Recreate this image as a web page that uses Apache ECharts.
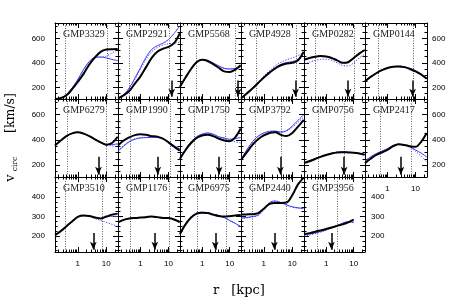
<!DOCTYPE html>
<html><head><meta charset="utf-8">
<script src="https://cdn.jsdelivr.net/npm/echarts@6/dist/echarts.min.js"></script>
<style>html,body{margin:0;padding:0;background:#fff}#c{width:458px;height:303px}</style>
</head><body><div id="c"></div>
<script>
// ---------------- data ----------------
const names = ['GMP3329','GMP2921','GMP5568','GMP4928','GMP0282','GMP0144',
  'GMP6279','GMP1990','GMP1750','GMP3792','GMP0756','GMP2417',
  'GMP3510','GMP1176','GMP6975','GMP2440','GMP3956'];
const radii = [0.158,0.251,0.398,0.631,1,1.585,2.512,3.981,6.31,10,15.85,25.1];
const vBlack = [
  [105,112,135,185,245,310,385,445,490,508,511,512],
  [110,135,170,230,290,365,440,490,515,530,560,640],
  [205,280,350,405,425,415,390,360,330,325,345,380],
  [110,150,190,235,280,320,355,380,395,400,420,490],
  [425,440,450,455,452,440,420,400,405,440,475,505],
  [250,285,315,340,358,368,370,365,350,330,305,270],
  [355,395,430,452,460,450,430,405,380,362,375,425],
  [355,395,420,438,445,440,430,425,410,380,345,315],
  [250,320,375,415,435,440,430,410,395,390,420,490],
  [240,300,360,405,435,455,460,440,430,455,505,560],
  [215,230,248,265,280,292,300,302,300,298,292,282],
  [215,250,280,300,320,350,365,360,350,345,385,455],
  [205,225,250,275,298,305,303,295,290,300,310,315],
  [270,283,290,293,295,297,300,297,293,292,285,272],
  [210,260,295,315,320,318,310,303,300,302,305,308],
  [310,311,312,318,340,365,370,370,372,410,465,500],
  [210,215,222,229,236,244,252,260,270,284,null,null]
];
const vBlue = [
  [105,115,140,195,265,345,410,445,448,440,428,418],
  [110,140,195,275,360,445,510,540,560,590,640,700],
  [205,280,352,408,428,420,398,375,355,350,355,370],
  [110,150,192,238,283,325,360,388,402,410,430,485],
  [425,440,450,455,452,440,420,400,405,440,475,505],
  [245,282,313,340,358,368,372,368,355,335,310,275],
  [355,395,430,452,460,450,430,405,382,362,362,370],
  [310,350,385,405,415,418,420,422,410,385,355,330],
  [250,325,385,425,445,455,445,425,415,405,410,420],
  [245,320,385,430,455,468,470,462,475,510,555,600],
  [220,235,252,268,282,294,302,304,302,299,293,283],
  [230,265,290,310,330,355,365,360,345,320,295,265],
  [205,225,250,275,298,305,303,295,290,298,302,300],
  [270,283,290,293,295,297,300,297,293,292,285,272],
  [210,262,297,317,322,318,312,305,295,280,265,248],
  [292,295,300,308,340,372,380,372,360,350,345,342],
  [205,210,216,223,232,243,255,266,274,270,null,null]
];
const vBlueDot = [
  [105,115,140,195,265,345,410,440,445,455,480,510],
  [110,140,190,265,350,430,490,525,545,555,560,570],
  [205,280,352,408,428,420,398,375,355,350,355,370],
  [110,150,195,245,292,335,375,405,425,440,460,480],
  [385,405,420,428,430,420,400,378,375,400,440,470],
  [245,282,313,340,358,368,372,368,355,335,310,275],
  [355,395,430,452,460,450,430,405,380,360,352,345],
  [315,355,388,408,418,420,422,420,408,383,352,325],
  [250,325,385,425,445,455,445,425,412,395,385,375],
  [245,318,382,428,452,466,468,460,470,500,540,580],
  [220,235,252,268,282,294,302,304,302,299,293,283],
  [230,265,290,310,330,355,365,358,340,310,270,225],
  [205,225,250,275,298,305,303,290,280,270,260,250],
  [270,283,290,293,295,297,300,297,293,292,285,272],
  [210,262,297,317,322,318,312,305,295,280,265,248],
  [290,293,298,305,335,368,378,370,358,348,343,340],
  [200,205,212,220,230,242,254,265,272,268,null,null]
];
const arrowR = [null,13,20,13,6.2,7.9, 5.3,4.15,4.15,3.8,4.5,3.0, 3.5,3.25,3.0,2.35,1.56];
const dotR1 = [0.36,0.39,0.59,0.54,0.39,0.46, 0.43,0.43,0.5,0.5,0.5,0.54, 0.36,0.43,0.69,0.39,0.46];
const dotR2 = [11,11,15.3,14,10.2,8.6, 10.2,12,6.8,4.15,4.5,6.8, 7.3,11,7.3,6.2,2.55];
const xTickLabels = [1,10];
const xMinorTicks = [0.2,0.3,0.4,0.5,0.6,0.7,0.8,0.9,2,3,4,5,6,7,8,9,20];
const yTickLabelsUpper = [200,400,600];
const yTickLabelsLower = [200,300,400];
const yMinorUpper = [150,250,300,350,450,500,550,650,700];
const yMinorLower = [125,150,175,225,250,275,325,350,375,425,450,475,500];

// ---------------- layout ----------------
const colLeft = [55,118,180,241,304,365];
const colW = [63,62,61,63,61,62];
const rowTop = [23,99,177];
const rowH = [76,78,75];
const yRange = [[105,725],[105,725],[118,503]];
const arrowTop = [255,265,215];
const arrowPad = [18,18,11];
const xMin = 0.158, xMax = 25.7;
const lg = Math.log10;
const labelFont = {fontFamily:'"Liberation Sans", Arial, sans-serif', fontSize:8, color:'#000'};

function xTick(gi,pos,vals,len,labels,lineShow){
  return {type:'value',gridIndex:gi,position:pos,min:lg(xMin),max:lg(xMax),
    axisLine:{show:lineShow,onZero:false,lineStyle:{color:'#000',width:1}},
    axisTick:{show:true,inside:true,length:len,customValues:vals.map(lg),lineStyle:{color:'#000',width:1}},
    axisLabel: labels ? Object.assign({show:true,margin:8,customValues:labels.map(lg),
      formatter:v=>String(Math.round(Math.pow(10,v)))},labelFont) : {show:false},
    splitLine:{show:false}};
}
function yTick(gi,pos,rng,vals,len,labels,margin,lineShow){
  return {type:'value',gridIndex:gi,position:pos,min:rng[0],max:rng[1],
    axisLine:{show:lineShow,onZero:false,lineStyle:{color:'#000',width:1}},
    axisTick:{show:true,inside:true,length:len,customValues:vals,lineStyle:{color:'#000',width:1}},
    axisLabel: labels ? Object.assign({show:true,margin:margin,customValues:labels},labelFont) : {show:false},
    splitLine:{show:false}};
}

const grids=[], xAxes=[], yAxes=[], series=[], graphics=[];
names.forEach((nm,i)=>{
  const row=Math.floor(i/6), col=i%6;
  grids.push({left:colLeft[col],top:rowTop[row],width:colW[col],height:rowH[row],outerBoundsMode:'none'});
  const yMaj = row<2 ? yTickLabelsUpper : yTickLabelsLower;
  const yMin = row<2 ? yMinorUpper : yMinorLower;
  const xi = xAxes.length;
  xAxes.push({type:'log',logBase:10,gridIndex:i,min:xMin,max:xMax,show:false});
  const showX = row===2 || (row===1 && col===5);
  xAxes.push(xTick(i,'bottom',xTickLabels,5,showX?xTickLabels:null,true));
  xAxes.push(xTick(i,'bottom',xMinorTicks,2.5,null,false));
  xAxes.push(xTick(i,'top',xTickLabels,5,null,true));
  xAxes.push(xTick(i,'top',xMinorTicks,2.5,null,false));
  const yi = yAxes.length;
  yAxes.push(yTick(i,'left',yRange[row],yMaj,5,col===0?yMaj:null,10,true));
  yAxes.push(yTick(i,'left',yRange[row],yMin,2.5,null,0,false));
  const rightLab = col===5 || (row===2 && col===4);
  yAxes.push(yTick(i,'right',yRange[row],yMaj,5,rightLab?yMaj:null,row===2?6:5,true));
  yAxes.push(yTick(i,'right',yRange[row],yMin,2.5,null,0,false));

  const pts = arr => radii.map((r,k)=>[r,arr[k]]);
  series.push({type:'line',xAxisIndex:xi,yAxisIndex:yi,data:pts(vBlueDot[i]),smooth:0.35,showSymbol:false,
    lineStyle:{color:'#3a3aff',width:1,type:[1.2,1.6]},z:3,silent:true});
  series.push({type:'line',xAxisIndex:xi,yAxisIndex:yi,data:pts(vBlue[i]),smooth:0.35,showSymbol:false,
    lineStyle:{color:'#3a3aff',width:1},z:4,silent:true,
    markLine: arrowR[i]==null ? undefined : {silent:true,symbol:['none','arrow'],
      label:{show:false},lineStyle:{color:'#000',width:1.5,type:'solid'},
      data:[[{coord:[arrowR[i],arrowTop[row]],symbol:'none'},
             {coord:[arrowR[i],yRange[row][0]+arrowPad[row]],symbol:'arrow',symbolSize:[5,8]}]]}});
  series.push({type:'line',xAxisIndex:xi,yAxisIndex:yi,data:pts(vBlack[i]),smooth:0.35,showSymbol:false,
    lineStyle:{color:'#000',width:2},z:5,silent:true,
    markLine:{silent:true,symbol:'none',label:{show:false},
      lineStyle:{color:'#333',width:0.8,type:[1,1.5]},
      data:[{xAxis:dotR1[i]},{xAxis:dotR2[i]}]}});
  graphics.push({type:'text',x:colLeft[col]+8,y:rowTop[row]+11,z:100,
    style:{text:nm,font:'10px "Liberation Serif", serif',fill:'#222',align:'left',verticalAlign:'middle'}});
});

graphics.push({type:'text',x:11,y:178,rotation:Math.PI/2,style:{text:'v',font:'13px "DejaVu Serif", serif',fill:'#000',align:'center',verticalAlign:'middle'}});
graphics.push({type:'text',x:15,y:164,rotation:Math.PI/2,style:{text:'circ',font:'7.5px "DejaVu Serif", serif',fill:'#000',align:'center',verticalAlign:'middle'}});
graphics.push({type:'text',x:11,y:113,rotation:Math.PI/2,style:{text:'[km/s]',font:'12.5px "DejaVu Serif", serif',fill:'#000',align:'center',verticalAlign:'middle'}});
graphics.push({type:'text',x:216,y:291,style:{text:'r',font:'13px "DejaVu Serif", serif',fill:'#000',align:'center',verticalAlign:'middle'}});
graphics.push({type:'text',x:248,y:291,style:{text:'[kpc]',font:'13px "DejaVu Serif", serif',fill:'#000',align:'center',verticalAlign:'middle'}});

const chart = echarts.init(document.getElementById('c'));
chart.setOption({animation:false,backgroundColor:'#fff',grid:grids,xAxis:xAxes,yAxis:yAxes,series:series,graphic:graphics});
</script></body></html>
